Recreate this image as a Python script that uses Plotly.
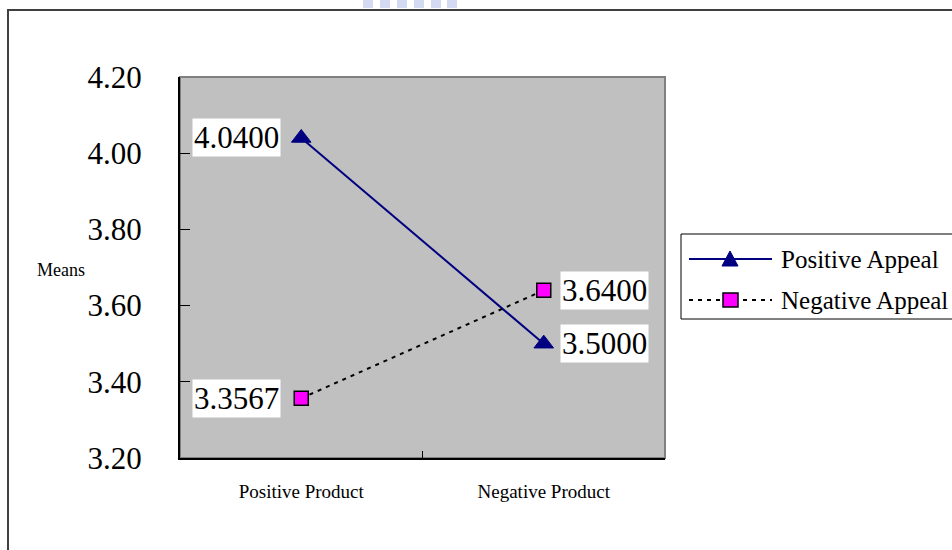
import plotly.graph_objects as go

# Chart data
categories = ["Positive Product", "Negative Product"]
series_names = ["Positive Appeal", "Negative Appeal"]
positive_appeal = [4.0400, 3.5000]
negative_appeal = [3.3567, 3.6400]
y_ticks = [3.20, 3.40, 3.60, 3.80, 4.00, 4.20]

W, H = 952, 550
L, R, T, B = 180, 665, 77, 458
SERIF = "Liberation Serif"
DOTS = "4px,5px"


def px(x):
    return (x - L) / (R - L)


def py(y):
    return (B - y) / (B - T)


fig = go.Figure()

fig.add_trace(go.Scatter(
    x=categories, y=positive_appeal, name=series_names[0],
    mode="lines+markers",
    line=dict(color="#000080", width=2),
    marker=dict(symbol="triangle-up", size=17, color="#000080",
                line=dict(color="#000080", width=1)),
    showlegend=False,
))
fig.add_trace(go.Scatter(
    x=categories, y=negative_appeal, name=series_names[1],
    mode="lines+markers",
    line=dict(color="black", width=2, dash=DOTS),
    marker=dict(symbol="square", size=14, color="#FF00FF",
                line=dict(color="black", width=1.5)),
    showlegend=False,
))

annotations = []
# value labels: left of the first category, right of the second
for vals in (positive_appeal, negative_appeal):
    for i, (cat, v) in enumerate(zip(categories, vals)):
        annotations.append(dict(
            x=cat, y=v, xref="x", yref="y", text=f"{v:.4f}",
            showarrow=False, bgcolor="white", borderpad=1,
            xanchor="right" if i == 0 else "left",
            xshift=-20 if i == 0 else 16,
            font=dict(family=SERIF, size=31, color="black"),
        ))

# axis title
annotations.append(dict(
    x=px(35), y=py(270), xref="paper", yref="paper", text="Means",
    showarrow=False, xanchor="left", yanchor="middle",
    font=dict(family=SERIF, size=18, color="black"),
))

# legend
legend_rows = [259, 300]
for name, yy in zip(series_names, legend_rows):
    annotations.append(dict(
        x=px(779), y=py(yy), xref="paper", yref="paper", text=name,
        showarrow=False, xanchor="left", yanchor="middle",
        font=dict(family=SERIF, size=25, color="black"),
    ))

shapes = [
    # plot area frame
    dict(type="rect", xref="paper", yref="paper", x0=0, x1=1, y0=0, y1=1,
         line=dict(color="#808080", width=2), layer="below"),
    # outer chart border
    dict(type="rect", xref="paper", yref="paper",
         x0=px(8), x1=px(980), y0=py(10), y1=py(600),
         line=dict(color="#404040", width=2)),
    # legend box
    dict(type="rect", xref="paper", yref="paper",
         x0=px(681), x1=px(980), y0=py(234), y1=py(319),
         line=dict(color="black", width=1), fillcolor="white"),
    # legend samples
    dict(type="line", xref="paper", yref="paper",
         x0=px(689), x1=px(772), y0=py(259), y1=py(259),
         line=dict(color="#000080", width=2)),
    dict(type="path", xref="paper", yref="paper",
         path=f"M {px(722)},{py(266)} L {px(738)},{py(266)} L {px(730)},{py(251)} Z",
         fillcolor="#000080", line=dict(color="#000080", width=1)),
    dict(type="line", xref="paper", yref="paper",
         x0=px(689), x1=px(772), y0=py(300), y1=py(300),
         line=dict(color="black", width=2, dash=DOTS)),
    dict(type="rect", xref="paper", yref="paper",
         x0=px(723), x1=px(738), y0=py(293), y1=py(307),
         fillcolor="#FF00FF", line=dict(color="black", width=1.5)),
]

# faint logo fragment at the top edge
for cx in [368, 385, 402, 419, 436, 452]:
    shapes.append(dict(type="rect", xref="paper", yref="paper",
                       x0=px(cx - 5), x1=px(cx + 5), y0=py(8), y1=py(-2),
                       fillcolor="rgba(130,150,215,0.35)", line=dict(width=0)))

fig.update_layout(
    width=W, height=H, autosize=False,
    margin=dict(l=L, r=W - R, t=T, b=H - B, pad=0),
    paper_bgcolor="white", plot_bgcolor="#C0C0C0",
    showlegend=False,
    annotations=annotations, shapes=shapes,
    xaxis=dict(
        type="category", categoryorder="array", categoryarray=categories,
        range=[-0.5, 1.5], tickson="boundaries",
        ticks="inside", ticklen=7, tickcolor="black", tickwidth=1,
        showline=True, linecolor="black", linewidth=2,
        showgrid=False, zeroline=False,
        tickfont=dict(family=SERIF, size=19, color="black"),
        ticklabelstandoff=15,
    ),
    yaxis=dict(
        range=[3.2, 4.2], tickvals=y_ticks, tickformat=".2f",
        ticks="inside", ticklen=10, tickcolor="black", tickwidth=1,
        showline=True, linecolor="black", linewidth=2,
        showgrid=False, zeroline=False,
        tickfont=dict(family=SERIF, size=31, color="black"),
        ticklabelstandoff=30,
    ),
)

fig.write_html("out.html")
